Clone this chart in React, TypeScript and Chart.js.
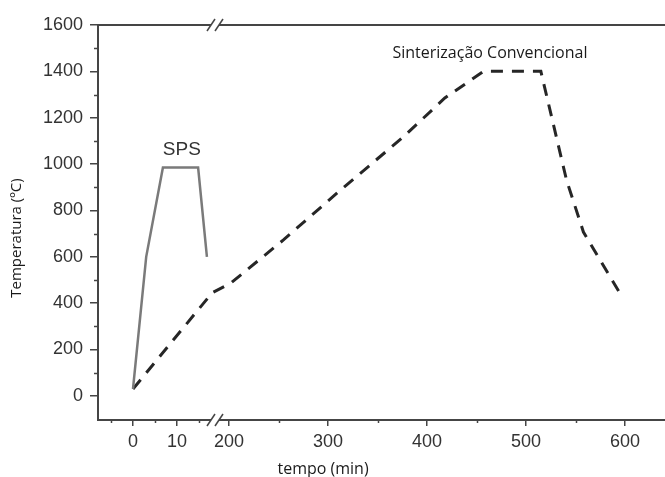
import React, { useEffect, useRef } from "react";
import { Chart, registerables } from "chart.js";

Chart.register(...registerables);

// ---- data (time in minutes, temperature in ºC) ----
const spsTime = [0, 3, 6.8, 14.8, 16.8];
const spsTemp = [30, 600, 985, 985, 600];

const convTime = [0, 18, 202, 255, 310, 376, 418, 457, 515, 541, 558, 598];
const convTemp = [30, 445, 487, 673, 878, 1117, 1285, 1400, 1400, 930, 707, 420];

const xMajorTicks = [0, 10, 200, 300, 400, 500, 600];
const xMinorTicks = [-5, 5, 15, 250, 350, 450, 550];
const yMinorTicks = [100, 300, 500, 700, 900, 1100, 1300, 1500];

const labelSPS = "SPS";
const labelConv = "Sinterização Convencional";
const xTitle = "tempo (min)";
const yTitle = "Temperatura (ºC)";

// broken axis: left segment (0..~18 min) stretched, right segment (200..640 min)
const BREAK_U = 82;
function toU(t: number): number {
  return t < 100 ? 4.4 * t : 96 + 0.99 * (t - 200);
}
function fromU(u: number): number {
  return u < BREAK_U ? u / 4.4 : 200 + (u - 96) / 0.99;
}

const AXIS = "#454545";
const TICKFONT = '"Liberation Sans", Arial, sans-serif';

const decorPlugin = {
  id: "decor",
  afterDraw(chart: any) {
    const { ctx, chartArea, scales } = chart;
    const xs = scales.x;
    const ys = scales.y;
    ctx.save();
    // top border
    ctx.strokeStyle = AXIS;
    ctx.lineWidth = 2;
    ctx.beginPath();
    ctx.moveTo(chartArea.left - 1, chartArea.top);
    ctx.lineTo(chartArea.right, chartArea.top);
    ctx.stroke();

    // minor ticks
    ctx.lineWidth = 1.5;
    for (const v of yMinorTicks) {
      const py = Math.round(ys.getPixelForValue(v)) + 0.5;
      ctx.beginPath();
      ctx.moveTo(chartArea.left - 4, py);
      ctx.lineTo(chartArea.left, py);
      ctx.stroke();
    }
    for (const t of xMinorTicks) {
      const px = Math.round(xs.getPixelForValue(toU(t))) + 0.5;
      ctx.beginPath();
      ctx.moveTo(px, chartArea.bottom);
      ctx.lineTo(px, chartArea.bottom + 3);
      ctx.stroke();
    }

    // axis breaks
    const cx = xs.getPixelForValue(BREAK_U);
    for (const yy of [chartArea.top, chartArea.bottom]) {
      ctx.fillStyle = "#ffffff";
      ctx.fillRect(cx - 4, yy - 2, 8, 4);
      ctx.strokeStyle = AXIS;
      ctx.lineWidth = 1.5;
      for (const sx of [cx - 4, cx + 4]) {
        ctx.beginPath();
        ctx.moveTo(sx - 4, yy + 6);
        ctx.lineTo(sx + 4, yy - 6);
        ctx.stroke();
      }
    }

    // annotations
    ctx.fillStyle = "#333333";
    ctx.textAlign = "center";
    ctx.textBaseline = "middle";
    ctx.font = '19px "Liberation Sans", Arial, sans-serif';
    ctx.fillText(labelSPS, xs.getPixelForValue(toU(11.1)), ys.getPixelForValue(1061));
    ctx.fillStyle = "#1a1a1a";
    ctx.font = '16px "Open Sans", sans-serif';
    ctx.fillText(labelConv, xs.getPixelForValue(toU(463.6)), ys.getPixelForValue(1479));

    // axis titles
    ctx.font = '16px "Open Sans", sans-serif';
    ctx.fillText(xTitle, xs.getPixelForValue(toU(295)), xs.bottom - 8);
    ctx.save();
    ctx.translate(17, 238);
    ctx.rotate(-Math.PI / 2);
    ctx.font = '15px "Open Sans", sans-serif';
    ctx.fillText(yTitle, 0, 0);
    ctx.restore();
    ctx.restore();
  },
};

export default function App() {
  const ref = useRef<HTMLCanvasElement | null>(null);
  useEffect(() => {
    if (!ref.current) return;
    const chart = new Chart(ref.current, {
      type: "line",
      data: {
        datasets: [
          {
            label: labelSPS,
            data: spsTime.map((t, i) => ({ x: toU(t), y: spsTemp[i] })),
            borderColor: "#7a7a7a",
            borderWidth: 2.5,
            pointRadius: 0,
            tension: 0,
            fill: false,
          },
          {
            label: labelConv,
            data: convTime.map((t, i) => ({ x: toU(t), y: convTemp[i] })),
            borderColor: "#262626",
            borderWidth: 3,
            borderDash: [12, 9],
            pointRadius: 0,
            tension: 0,
            fill: false,
          },
        ],
      },
      options: {
        responsive: false,
        animation: false,
        layout: { padding: { top: 25, right: 0, left: 0, bottom: 0 } },
        plugins: { legend: { display: false }, tooltip: { enabled: false } },
        scales: {
          x: {
            type: "linear",
            min: -35,
            max: 532,
            afterFit: (s: any) => {
              s.height = 57;
            },
            afterBuildTicks: (s: any) => {
              s.ticks = xMajorTicks.map((t) => ({ value: toU(t) }));
            },
            ticks: {
              autoSkip: false,
              maxRotation: 0,
              padding: 5,
              color: "#333333",
              font: { family: TICKFONT, size: 18 },
              callback: (v: any) => String(Math.round(fromU(Number(v)))),
            },
            grid: {
              drawOnChartArea: false,
              drawTicks: true,
              tickLength: 6,
              color: AXIS,
              lineWidth: 1.5,
            },
            border: { display: true, color: AXIS, width: 2 },
          },
          y: {
            type: "linear",
            min: -104,
            max: 1600,
            afterFit: (s: any) => {
              s.width = 98;
            },
            afterBuildTicks: (s: any) => {
              const arr = [];
              for (let v = 0; v <= 1600; v += 200) arr.push({ value: v });
              s.ticks = arr;
            },
            ticks: {
              padding: 7,
              color: "#333333",
              font: { family: TICKFONT, size: 18 },
              callback: (v: any) => String(v),
            },
            grid: {
              drawOnChartArea: false,
              drawTicks: true,
              tickLength: 8,
              color: AXIS,
              lineWidth: 1.5,
            },
            border: { display: true, color: AXIS, width: 2 },
          },
        },
      },
      plugins: [decorPlugin],
    });
    return () => chart.destroy();
  }, []);
  return (
    <div style={{ position: "absolute", left: 0, top: 0, width: 665, height: 477, background: "#fff" }}>
      <canvas ref={ref} width={665} height={477} />
    </div>
  );
}
